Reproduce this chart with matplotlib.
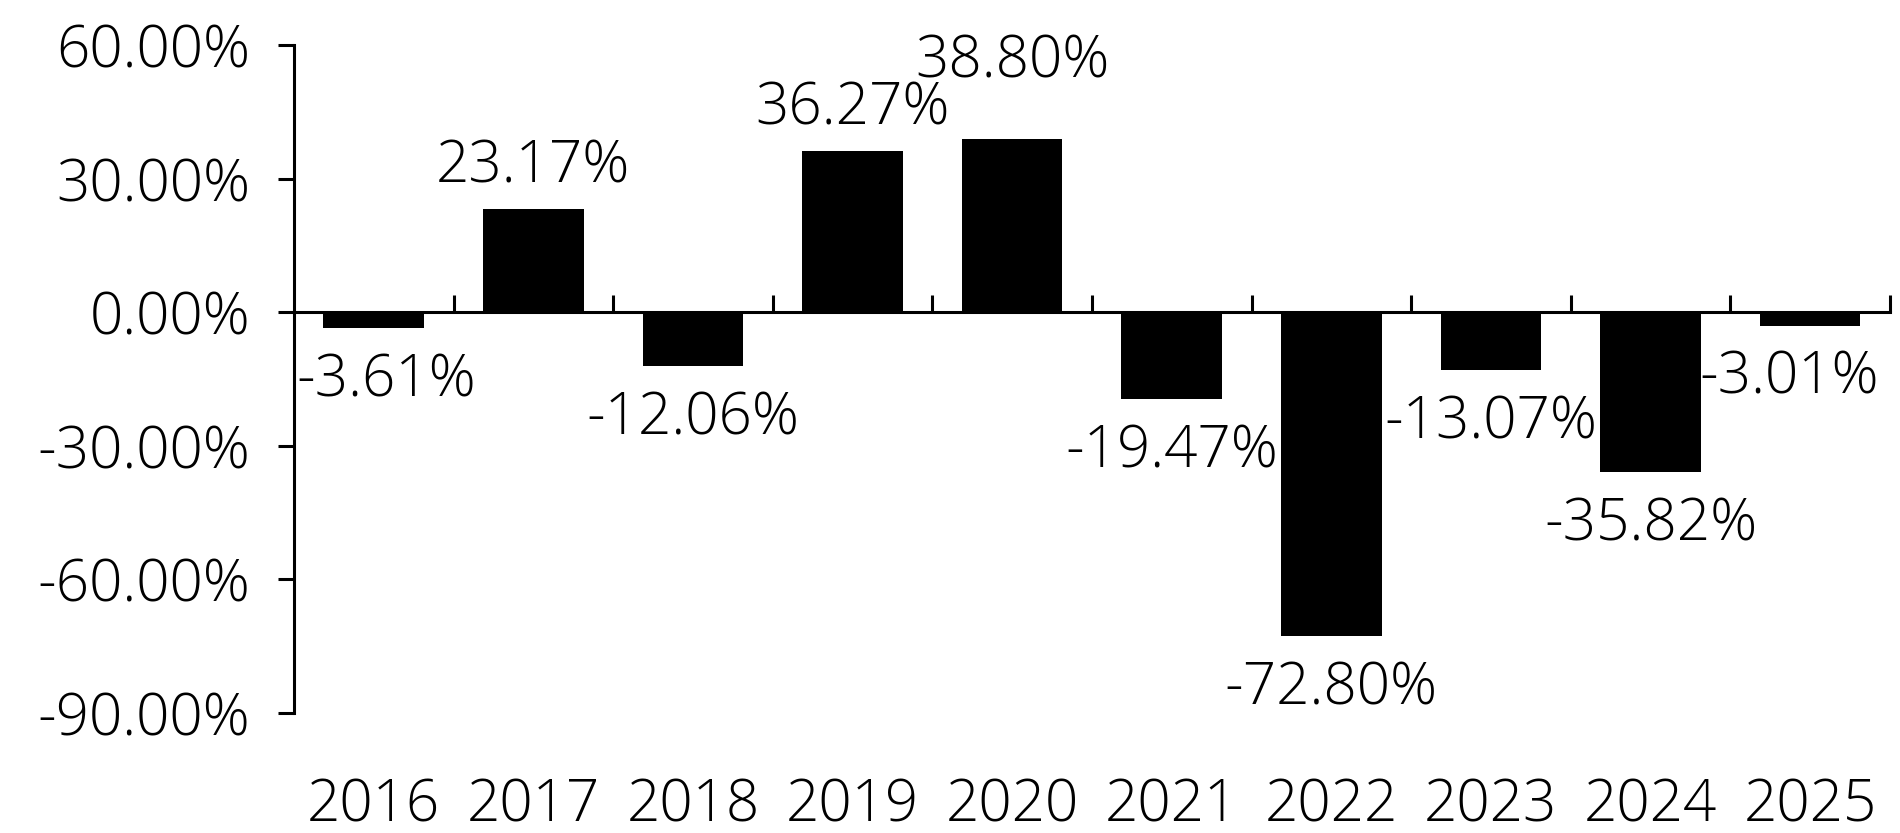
import matplotlib
matplotlib.use("Agg")
import matplotlib.pyplot as plt
from matplotlib.ticker import FixedLocator, FuncFormatter

# Annual returns (%)
years = ['2016', '2017', '2018', '2019', '2020', '2021', '2022', '2023', '2024', '2025']
returns = [-3.61, 23.17, -12.06, 36.27, 38.80, -19.47, -72.80, -13.07, -35.82, -3.01]
y_ticks = [60, 30, 0, -30, -60, -90]

# nudges (points) where the original shifted labels to avoid clashes
label_nudge = {'2016': (9, 0), '2020': (0, 26), '2025': (-15, 0)}

plt.rcParams['font.family'] = ['Open Sans', 'DejaVu Sans']
plt.rcParams['axes.unicode_minus'] = False

FS = 42
LW = 2.2

fig = plt.figure(figsize=(19, 8.33), dpi=100)
ax = fig.add_axes([0.1547, 0.144, 0.84, 0.802])

x = list(range(len(years)))
ax.bar(x, returns, width=0.63, color='black', zorder=2)

# data labels
for xi, yr, val in zip(x, years, returns):
    dx, dy = label_nudge.get(yr, (0, 0))
    off = 30 if val >= 0 else -38
    ax.annotate(f"{val:.2f}%", (xi, val), xytext=(dx, off + dy),
                textcoords='offset points', ha='center', va='center',
                fontsize=FS, fontweight='light', color='black')

ax.set_xlim(-0.5, len(years) - 0.5)
ax.set_ylim(-90, 60)

# axes styling
for s in ['top', 'right']:
    ax.spines[s].set_visible(False)
ax.spines['bottom'].set_position(('data', 0))
ax.spines['bottom'].set_zorder(3)
for s in ['left', 'bottom']:
    ax.spines[s].set_linewidth(LW)

ax.yaxis.set_major_locator(FixedLocator(y_ticks))
ax.yaxis.set_major_formatter(FuncFormatter(lambda v, _: f"{v:.2f}%"))
ax.tick_params(axis='y', direction='out', length=11.5, width=LW, pad=20,
               labelsize=FS)

ax.set_xticks(x)
ax.set_xticklabels(years)
ax.set_xticks([i + 0.5 for i in x], minor=True)
ax.tick_params(axis='x', which='major', length=0, pad=334, labelsize=FS)
ax.tick_params(axis='x', which='minor', direction='in', length=12, width=LW)

for lbl in ax.get_xticklabels() + ax.get_yticklabels():
    lbl.set_fontweight('light')

fig.savefig('out.png', dpi=100)
